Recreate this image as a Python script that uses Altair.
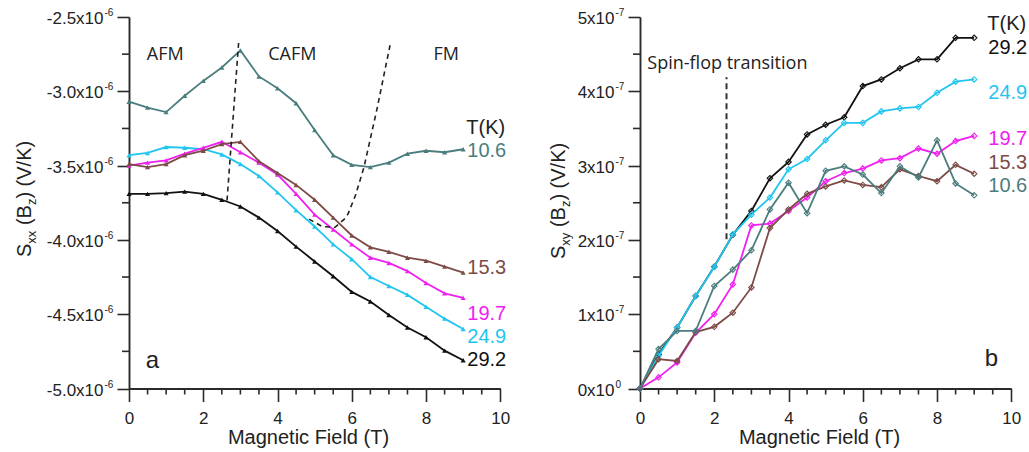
import altair as alt
import pandas as pd

# ---------------- data ----------------
field_T = [0, 0.5, 1, 1.5, 2, 2.5, 3, 3.5, 4, 4.5, 5, 5.5, 6, 6.5, 7, 7.5, 8, 8.5, 9]
temps = ["10.6", "15.3", "19.7", "24.9", "29.2"]
series_colors = ["#4a7d7d", "#7d4b46", "#f020f0", "#22c5f0", "#111111"]

# S_xx in units of 1e-6 V/K
sxx_10_6 = [-3.07, -3.11, -3.14, -3.03, -2.93, -2.84, -2.725, -2.90, -2.98, -3.08, -3.26, -3.43, -3.495, -3.51, -3.48, -3.42, -3.40, -3.41, -3.39]
sxx_15_3 = [-3.49, -3.51, -3.49, -3.43, -3.40, -3.355, -3.34, -3.47, -3.55, -3.63, -3.73, -3.85, -3.97, -4.05, -4.08, -4.12, -4.14, -4.18, -4.22]
sxx_19_7 = [-3.50, -3.48, -3.465, -3.42, -3.38, -3.34, -3.41, -3.48, -3.56, -3.69, -3.83, -3.93, -4.03, -4.12, -4.155, -4.21, -4.29, -4.36, -4.39]
sxx_24_9 = [-3.43, -3.415, -3.375, -3.38, -3.39, -3.425, -3.49, -3.57, -3.68, -3.80, -3.91, -4.03, -4.13, -4.25, -4.31, -4.37, -4.45, -4.53, -4.60]
sxx_29_2 = [-3.69, -3.69, -3.685, -3.675, -3.69, -3.73, -3.775, -3.85, -3.94, -4.045, -4.145, -4.245, -4.35, -4.415, -4.505, -4.59, -4.655, -4.745, -4.81]

# S_xy in units of 1e-7 V/K
sxy_10_6 = [0, 0.53, 0.775, 0.775, 1.38, 1.60, 1.86, 2.41, 2.77, 2.36, 2.93, 2.99, 2.88, 2.63, 2.99, 2.84, 3.34, 2.76, 2.60]
sxy_15_3 = [0, 0.395, 0.37, 0.76, 0.83, 1.02, 1.36, 2.16, 2.41, 2.62, 2.72, 2.80, 2.74, 2.71, 2.95, 2.86, 2.79, 3.01, 2.89]
sxy_19_7 = [0, 0.15, 0.35, 0.75, 1.0, 1.40, 2.195, 2.22, 2.39, 2.57, 2.79, 2.90, 2.96, 3.07, 3.10, 3.23, 3.16, 3.33, 3.40]
sxy_24_9 = [0, 0.44, 0.82, 1.245, 1.636, 2.075, 2.34, 2.57, 2.95, 3.09, 3.34, 3.575, 3.575, 3.73, 3.77, 3.79, 3.98, 4.13, 4.16]
sxy_29_2 = [0, 0.46, 0.82, 1.245, 1.64, 2.07, 2.39, 2.83, 3.05, 3.42, 3.55, 3.65, 4.07, 4.16, 4.31, 4.43, 4.43, 4.72, 4.72]

# phase boundaries (dashed)
afm_B = [2.64, 2.957]
afm_S = [-3.735, -2.657]
fm_B = [4.85, 5.2, 5.55, 5.8, 5.9, 6.1, 6.33, 6.69, 7.03]
fm_S = [-3.86, -3.91, -3.915, -3.86, -3.825, -3.70, -3.51, -3.106, -2.69]
spinflop_B = [2.33, 2.33]
spinflop_S = [2.01, 4.19]

# axis ticks
x_major = [0, 2, 4, 6, 8, 10]
x_minor = [0.5, 1, 1.5, 2.5, 3, 3.5, 4.5, 5, 5.5, 6.5, 7, 7.5, 8.5, 9, 9.5]
left_ticks = [-2.5, -3.0, -3.5, -4.0, -4.5, -5.0]
left_tick_base = ["-2.5x10", "-3.0x10", "-3.5x10", "-4.0x10", "-4.5x10", "-5.0x10"]
left_tick_exp = ["-6", "-6", "-6", "-6", "-6", "-6"]
left_minor = [-2.75, -3.25, -3.75, -4.25, -4.75]
right_ticks = [0, 1, 2, 3, 4, 5]
right_tick_base = ["0x10", "1x10", "2x10", "3x10", "4x10", "5x10"]
right_tick_exp = ["0", "-7", "-7", "-7", "-7", "-7"]
right_minor = [0.5, 1.5, 2.5, 3.5, 4.5]

left_phases = ["AFM", "CAFM", "FM"]
left_label_y = [133.8, 250.8, 296.8, 319.8, 342.8]    # 10.6, 15.3, 19.7, 24.9, 29.2
right_label_y = [168.8, 145.8, 121.8, 75.8, 30.8]

# ---------------- styling ----------------
FONT = "Liberation Sans"
SANS2 = "Open Sans"
AX = "#2a2a2a"
TXT = "#222222"
W, H = 371.3, 371.5

xscale = alt.Scale(domain=[0, 10], nice=False, zero=False)
yscale_l = alt.Scale(domain=[-5.0, -2.5], nice=False, zero=False)
yscale_r = alt.Scale(domain=[0, 5], nice=False, zero=False)

x_axis = alt.Axis(values=x_major, format="d", tickSize=13, labelPadding=9, labelFontSize=17,
                  labelFont=FONT, labelColor=TXT, labelFlush=False, domainColor=AX, domainWidth=1.9,
                  tickColor=AX, tickWidth=1.6, grid=False, title="Magnetic Field (T)", titleFont=FONT,
                  titleFontSize=20, titleFontWeight="normal", titleColor=TXT, titleX=179, titleY=55,
                  titleBaseline="alphabetic")


def y_axis(vals):
    return alt.Axis(values=vals, labels=False, tickSize=12, domainColor=AX, domainWidth=1.9,
                    tickColor=AX, tickWidth=1.6, grid=False, title="")


def txt(s, x, y, size, color=TXT, font=FONT, align="left", baseline="middle", angle=0):
    kw = dict(align=align, baseline=baseline, fontSize=size, font=font, color=color)
    if angle:
        kw["angle"] = angle
    return alt.Chart(pd.DataFrame({"t": [s]})).mark_text(**kw).encode(
        x=alt.value(x), y=alt.value(y), text="t:N")


def ytitle(sub, x0, y0):
    # rotated title built from pieces so that subscripts are real subscripts
    segs = [("S", 20, 0, 0.0), (sub, 13, 5, 13.34), ("(B", 20, 0, 31.9),
            ("z", 13, 5, 51.9), (")", 20, 0, 58.4), ("(V/K)", 20, 0, 70.6)]
    out = []
    for s, fs, shift, off in segs:
        out.append(txt(s, x0 + shift, y0 - off, fs, baseline="alphabetic", angle=270))
    return out


def series_layers(values_list, yscale, yax, shape, filled, size):
    layers = []
    order = [4, 3, 2, 1, 0]  # draw 29.2 first, 10.6 last
    for i in order:
        df = pd.DataFrame({"B": field_T, "S": values_list[i]})
        c = series_colors[i]
        pt = alt.OverlayMarkDef(shape=shape, filled=filled, size=size, color=c, strokeWidth=1.1)
        layers.append(alt.Chart(df).mark_line(color=c, strokeWidth=1.8, point=pt).encode(
            x=alt.X("B:Q", scale=xscale, axis=x_axis),
            y=alt.Y("S:Q", scale=yscale, axis=yax),
        ))
    return layers


def tick_layers(yscale, yax, ticks, base, exp, yminor):
    lay = []
    lay.append(alt.Chart(pd.DataFrame({"B": x_minor})).mark_rule(color=AX, strokeWidth=1.6).encode(
        x=alt.X("B:Q", scale=xscale, axis=x_axis), y=alt.value(H), y2=alt.value(H + 6)))
    lay.append(alt.Chart(pd.DataFrame({"S": yminor})).mark_rule(color=AX, strokeWidth=1.6).encode(
        y=alt.Y("S:Q", scale=yscale, axis=yax), x=alt.value(0), x2=alt.value(-7)))
    tdf = pd.DataFrame({"S": ticks, "base": base, "exp": exp})
    lay.append(alt.Chart(tdf).mark_text(align="right", baseline="middle", dy=2, fontSize=17, font=FONT,
                                        color=TXT).encode(
        y=alt.Y("S:Q", scale=yscale, axis=yax), x=alt.value(-25.5), text="base:N"))
    lay.append(alt.Chart(tdf).mark_text(align="left", baseline="middle", dy=-4, fontSize=10, font=FONT,
                                        color=TXT).encode(
        y=alt.Y("S:Q", scale=yscale, axis=yax), x=alt.value(-24.5), text="exp:N"))
    return lay


# ---------------- left panel ----------------
yax_l = y_axis(left_ticks)
L = []
L.append(alt.Chart(pd.DataFrame({"a": [0]})).mark_rule(opacity=0).encode(
    x=alt.value(-127.7), x2=alt.value(-120), y=alt.value(-16.2), y2=alt.value(-10)))
L += series_layers([sxx_10_6, sxx_15_3, sxx_19_7, sxx_24_9, sxx_29_2], yscale_l,
                   yax_l, "triangle-up", True, 26)
dash_df = pd.DataFrame({"B": afm_B + fm_B, "S": afm_S + fm_S,
                        "g": ["a"] * len(afm_B) + ["b"] * len(fm_B)})
L.append(alt.Chart(dash_df).mark_line(color="#222222", strokeWidth=1.6, strokeDash=[5, 4]).encode(
    x=alt.X("B:Q", scale=xscale, axis=x_axis), y=alt.Y("S:Q", scale=yscale_l, axis=yax_l), detail="g:N"))
L += tick_layers(yscale_l, yax_l, left_ticks, left_tick_base, left_tick_exp, left_minor)
L.append(txt(left_phases[0], 36.3, 37.8, 18, font=SANS2, align="center"))
L.append(txt(left_phases[1], 163.3, 37.8, 18, font=SANS2, align="center"))
L.append(txt(left_phases[2], 317.3, 37.8, 18, font=SANS2, align="center"))
L.append(txt("T(K)", 337.3, 110.8, 20))
for i, t in enumerate(temps):
    L.append(txt(t, 338.3, left_label_y[i], 20, color=series_colors[i]))
L.append(txt("a", 23.3, 343.8, 24, align="center"))
L += ytitle("xx", -97.7, 240)
left = alt.layer(*L).properties(width=W, height=H)

# ---------------- right panel ----------------
yax_r = y_axis(right_ticks)
R = []
R += series_layers([sxy_10_6, sxy_15_3, sxy_19_7, sxy_24_9, sxy_29_2], yscale_r,
                   yax_r, "diamond", False, 30)
sf_df = pd.DataFrame({"B": spinflop_B, "S": spinflop_S})
R.append(alt.Chart(sf_df).mark_line(color="#333333", strokeWidth=2, strokeDash=[6, 4]).encode(
    x=alt.X("B:Q", scale=xscale, axis=x_axis), y=alt.Y("S:Q", scale=yscale_r, axis=yax_r)))
R += tick_layers(yscale_r, yax_r, right_ticks, right_tick_base, right_tick_exp, right_minor)
R.append(txt("Spin-flop transition", 7.3, 46.5, 18, font=SANS2))
R.append(txt("T(K)", 347.3, 6.8, 20))
for i, t in enumerate(temps):
    R.append(txt(t, 348.3, right_label_y[i], 20, color=series_colors[i]))
R.append(txt("b", 351.3, 341.8, 24, align="center"))
R += ytitle("xy", -75, 242)
right = alt.layer(*R).properties(width=W, height=H)

chart = alt.hconcat(left, right, spacing=139, bounds="flush").properties(
    padding=0, background="white").configure_view(stroke="transparent")

chart.save("out.html", embed_options={"renderer": "svg", "actions": False})
